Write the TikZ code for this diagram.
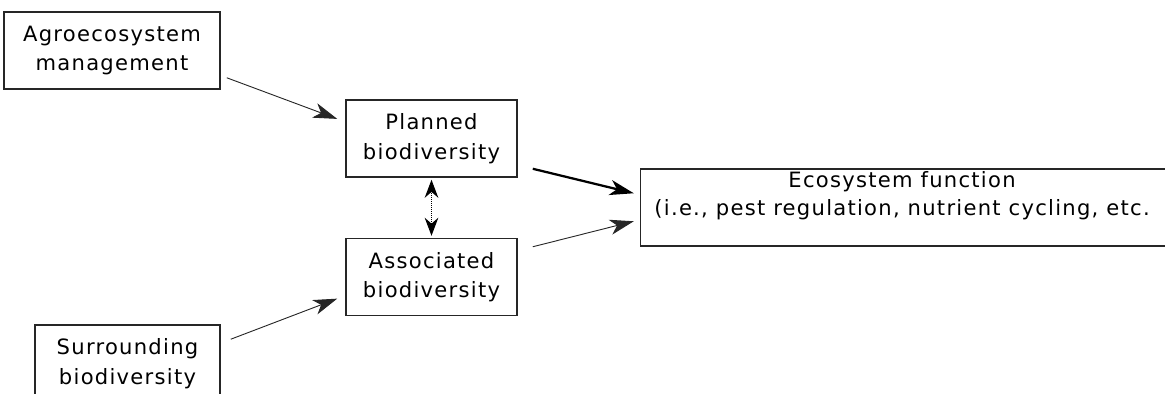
\documentclass[tikz,border=0pt]{standalone}
\usepackage{fontspec}
\setmainfont{DejaVu Sans}[LetterSpace=6]
\usetikzlibrary{arrows.meta,positioning,calc}

\begin{document}
\begin{tikzpicture}[every node/.style={align=center, font=\fontsize{15}{21}\selectfont}, node distance=1.5cm and 3.05cm]
\tikzset{
  block/.style={draw=black!85, line width=1.1pt, minimum height=1.925cm, inner sep=2pt},
  ecobox/.style={block, minimum width=13.225cm},
  link/.style={-{Stealth[length=0.6cm,width=0.38cm,inset=0.17cm]}, draw=black!85, line width=0.65pt},
  linkbold/.style={link, draw=black, line width=1.6pt},
  mutual/.style={{Stealth[length=0.45cm,width=0.34cm]}-{Stealth[length=0.45cm,width=0.34cm]}, dash pattern=on 0.7pt off 0.7pt, line width=0.8pt}
}
\useasboundingbox (0,0) rectangle (29.125,-9.85);
\node[block, minimum width=5.4cm] (agro) at (2.8,-1.2625) {Agroecosystem\\management};
\node[block, minimum width=4.275cm] (planned) at (10.7875,-3.4625) {Planned\\biodiversity};
\node[block, minimum width=4.275cm, below=of planned] (assoc) {Associated\\biodiversity};
\node[block, minimum width=4.625cm] (surround) at (3.1875,-9.0875) {Surrounding\\biodiversity};
\node[ecobox, anchor=west] (ecofn) at ($(planned.east)!0.5!(assoc.east)+(3.05,0)$) {};
\node[font=\fontsize{15}{19.5}\selectfont] (ecotext) at ([xshift=-0.075cm, yshift=0.3cm]ecofn.center) {Ecosystem function\\(i.e., pest regulation, nutrient cycling, etc.};
% arrows into the boxes
\draw[link] ([xshift=0.15cm,yshift=0.3cm]agro.south east) -- ([xshift=-0.2cm,yshift=0.49cm]planned.west);
\draw[link] ([xshift=0.25cm,yshift=-0.375cm]surround.north east) -- ([xshift=-0.2cm,yshift=-0.54cm]assoc.west);
\draw[mutual] ([yshift=-0.05cm]planned.south) -- ([yshift=0.05cm]assoc.north);
\draw[linkbold] ([xshift=0.375cm,yshift=0.225cm]planned.south east) -- ([xshift=-0.15cm,yshift=0.3625cm]ecofn.west);
\draw[link] ([xshift=0.375cm,yshift=-0.225cm]assoc.north east) -- ([xshift=-0.15cm,yshift=-0.3375cm]ecofn.west);
\end{tikzpicture}
\end{document}
